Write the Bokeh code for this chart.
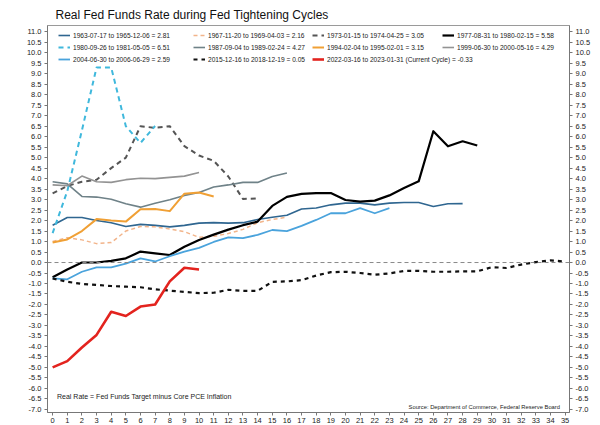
from bokeh.plotting import figure
from bokeh.models import (Legend, LegendItem, LinearAxis, FixedTicker,
                          PrintfTickFormatter, Span, Label, Range1d)
from bokeh.embed import file_html
from bokeh.resources import INLINE

FONT = "Liberation Sans"

# ---------------- data ----------------
title_text = "Real Fed Funds Rate during Fed Tightening Cycles"
note_text = "Real Rate = Fed Funds Target minus Core PCE Inflation"
source_text = "Source: Department of Commerce, Federal Reserve Board"

cycle_labels = [
    "1963-07-17 to 1965-12-06 = 2.81",
    "1967-11-20 to 1969-04-03 = 2.16",
    "1973-01-15 to 1974-04-25 = 3.05",
    "1977-08-31 to 1980-02-15 = 5.58",
    "1980-09-26 to 1981-05-05 = 6.51",
    "1987-09-04 to 1989-02-24 = 4.27",
    "1994-02-04 to 1995-02-01 = 3.15",
    "1999-06-30 to 2000-05-16 = 4.29",
    "2004-06-30 to 2006-06-29 = 2.59",
    "2015-12-16 to 2018-12-19 = 0.05",
    "2022-03-16 to 2023-01-31 (Current Cycle) = -0.33",
]

s1963 = [1.78, 2.15, 2.15, 2.0, 1.9, 1.72, 1.82, 1.77, 1.7, 1.77, 1.88, 1.9, 1.88,
         1.9, 2.05, 2.16, 2.25, 2.55, 2.6, 2.75, 2.83, 2.83, 2.75, 2.83, 2.86, 2.86,
         2.67, 2.8, 2.81]
s1967 = [1.0, 1.18, 1.08, 0.9, 0.95, 1.5, 1.72, 1.7, 1.6, 1.47, 1.2, 1.25, 1.38,
         1.58, 1.9, 2.05, 2.16]
s1973 = [3.3, 3.65, 3.85, 3.95, 4.5, 5.0, 6.5, 6.42, 6.5, 5.55, 5.1, 4.85, 4.1,
         3.03, 3.05]
s1977 = [-0.7, -0.33, 0.0, 0.0, 0.08, 0.2, 0.52, 0.44, 0.36, 0.75, 1.07, 1.33,
         1.57, 1.78, 1.95, 2.7, 3.13, 3.27, 3.31, 3.31, 2.98, 2.9, 2.95, 3.2, 3.55,
         3.87, 6.26, 5.54, 5.78, 5.58]
s1980 = [1.4, 3.4, 6.3, 9.3, 9.3, 6.5, 5.7, 6.51]
s1987 = [3.85, 3.75, 3.15, 3.12, 3.02, 2.8, 2.64, 2.83, 2.99, 3.2, 3.34, 3.6, 3.7,
         3.82, 3.82, 4.1, 4.27]
s1994 = [0.95, 1.1, 1.5, 2.07, 2.0, 1.95, 2.54, 2.55, 2.45, 3.28, 3.34, 3.15]
s1999 = [3.7, 3.66, 4.12, 3.85, 3.82, 3.95, 4.02, 4.0, 4.06, 4.12, 4.29]
s2004 = [-0.76, -0.8, -0.44, -0.23, -0.23, -0.05, 0.2, 0.05, 0.3, 0.52, 0.7, 0.98,
         1.2, 1.16, 1.32, 1.55, 1.5, 1.75, 2.03, 2.35, 2.35, 2.59, 2.35, 2.59]
s2015 = [-0.76, -0.92, -1.02, -1.07, -1.12, -1.15, -1.18, -1.28, -1.34, -1.4, -1.46,
         -1.44, -1.3, -1.35, -1.35, -0.92, -0.9, -0.84, -0.62, -0.46, -0.44, -0.5,
         -0.58, -0.52, -0.4, -0.4, -0.44, -0.44, -0.42, -0.42, -0.22, -0.26, -0.1,
         0.02, 0.1, 0.05]
s2022 = [-5.0, -4.7, -4.05, -3.45, -2.35, -2.55, -2.1, -2.0, -0.9, -0.25, -0.33]

all_series = [s1963, s1967, s1973, s1977, s1980, s1987, s1994, s1999, s2004, s2015, s2022]

x_ticks = list(range(0, 36))
y_ticks = [v / 2 for v in range(-14, 23)]

# ---------------- styles ----------------
colors = ["#2f6690", "#f2b48a", "#555555", "#000000", "#3fb8dc", "#6f8288",
          "#f0a035", "#939393", "#4aa3dc", "#111111", "#e3231e"]
widths = [1.6, 1.5, 2.0, 2.2, 2.0, 1.6, 2.0, 1.6, 1.8, 2.2, 2.6]
dashes = ["solid", "4 3", "5 4", "solid", "5 4", "solid", "solid", "solid",
          "solid", "4 4", "solid"]

W, H = 600, 425
p = figure(width=W, height=H, x_range=Range1d(-0.35, 35.3),
           y_range=Range1d(-7.15, 11.3), output_backend="svg",
           toolbar_location=None, min_border_left=47, min_border_right=31,
           min_border_top=25, min_border_bottom=0)

p.title.text = title_text
p.title.text_font = FONT
p.title.text_font_size = "12px"
p.title.text_font_style = "normal"
p.title.text_color = "#111111"
p.title.align = "left"
p.title.offset = 8
p.title.standoff = 8

p.xgrid.visible = False
p.ygrid.visible = False
p.outline_line_color = "#9a9a9a"
p.background_fill_color = "white"
p.border_fill_color = "white"

p.xaxis.ticker = FixedTicker(ticks=x_ticks)
p.yaxis.ticker = FixedTicker(ticks=y_ticks)
p.yaxis.formatter = PrintfTickFormatter(format="%.1f")
right_axis = LinearAxis(ticker=FixedTicker(ticks=y_ticks),
                        formatter=PrintfTickFormatter(format="%.1f"))
p.add_layout(right_axis, "right")

for ax in [p.xaxis[0], p.yaxis[0], right_axis]:
    ax.major_label_text_font = FONT
    ax.major_label_text_font_size = "7.5px"
    ax.major_label_text_color = "#222222"
    ax.axis_line_color = "#777777"
    ax.major_tick_line_color = "#777777"
    ax.major_tick_in = 0
    ax.major_tick_out = 3
    ax.minor_tick_line_color = None
    ax.major_label_standoff = 3
p.xaxis[0].major_label_standoff = 2

zero = Span(location=0, dimension="width", line_color="#8a8a8a",
            line_dash="4 3", line_width=1)
p.add_layout(zero)

renderers = []
for vals, c, w, d in zip(all_series, colors, widths, dashes):
    r = p.line(x=list(range(len(vals))), y=vals, line_color=c, line_width=w,
               line_dash=d, line_join="round")
    renderers.append(r)

FH = 387
cols = [[0, 4, 8], [1, 5, 9], [2, 6, 10], [3, 7]]
xoffs = [11, 146, 265, 395]
for col, xo in zip(cols, xoffs):
    items = [LegendItem(label=cycle_labels[k], renderers=[renderers[k]]) for k in col]
    lg = Legend(items=items, location=(xo, FH - 3 - 12 * len(col)),
                orientation="vertical", padding=0, margin=0, spacing=2,
                label_height=10, glyph_height=10, glyph_width=12,
                label_standoff=3, label_text_font=FONT,
                label_text_font_size="6.6px", label_text_color="#222222",
                border_line_color=None, background_fill_alpha=0)
    p.add_layout(lg)

p.add_layout(Label(x=0.3, y=-6.4, text=note_text, text_font=FONT,
                   text_font_size="7px", text_baseline="middle",
                   text_color="#222222"))
p.add_layout(Label(x=34.65, y=-6.88, text=source_text, text_font=FONT,
                   text_font_size="5.8px", text_baseline="middle",
                   text_align="right", text_color="#222222"))

open("out.html", "w").write(file_html(p, INLINE))
